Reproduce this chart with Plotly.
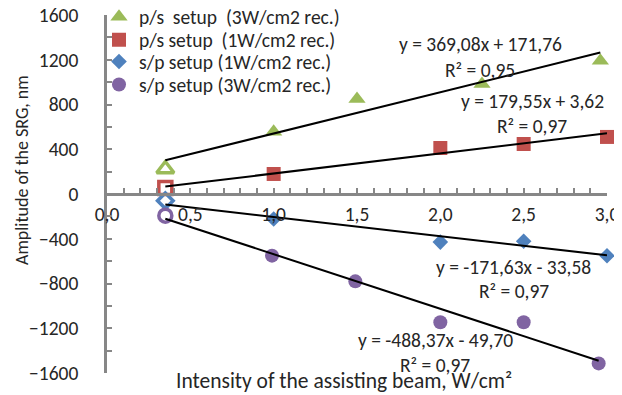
import plotly.graph_objects as go

# ---------------- data ----------------
series_names = [
    "p/s\u00a0 setup\u00a0 (3W/cm2 rec.)",
    "p/s setup\u00a0 (1W/cm2 rec.)",
    "s/p setup (1W/cm2 rec.)",
    "s/p setup (3W/cm2 rec.)",
]
ps3_x = [0.35, 1.0, 1.5, 2.25, 2.96]
ps3_y = [223, 556, 849, 983, 1192]
ps1_x = [0.35, 1.0, 2.0, 2.5, 3.0]
ps1_y = [54, 179, 411, 447, 510]
sp1_x = [0.35, 1.0, 2.0, 2.5, 3.0]
sp1_y = [-60, -224, -430, -422, -552]
sp3_x = [0.35, 0.99, 1.49, 2.0, 2.5, 2.95]
sp3_y = [-194, -551, -781, -1147, -1147, -1514]

slopes = [369.08, 179.55, -171.63, -488.37]
intercepts = [171.76, 3.62, -33.58, -49.70]
equations = ["y = 369,08x + 171,76", "y = 179,55x + 3,62",
             "y = -171,63x - 33,58", "y = -488,37x - 49,70"]
r2_labels = ["R² = 0,95", "R² = 0,97", "R² = 0,97", "R² = 0,97"]

x_ticks = [0.0, 0.5, 1.0, 1.5, 2.0, 2.5, 3.0]
x_tick_labels = ["0,0", "0,5", "1,0", "1,5", "2,0", "2,5", "3,0"]
y_ticks = [-1600, -1200, -800, -400, 0, 400, 800, 1200, 1600]

x_title = "Intensity of the assisting beam, W/cm²"
y_title = "Amplitude of the SRG, nm"

# ---------------- style ----------------
FONT = "Carlito, Lato, sans-serif"
FS = 19.5
TXT = "#262626"
AXC = "#878787"
colors = ["#9BBB59", "#C0504D", "#4F81BD", "#8064A2"]
symbols = ["triangle-up", "square", "diamond", "circle"]
sizes = [15, 14, 12, 14]
open_sizes = [15, 13, 12, 13]
legend_ids = ["legend", "legend2", "legend3", "legend4"]
legend_rows_y = [0.994, 0.930, 0.869, 0.805]

xs = [ps3_x, ps1_x, sp1_x, sp3_x]
ys = [ps3_y, ps1_y, sp1_y, sp3_y]

fig = go.Figure()

for i in range(4):
    fig.add_trace(go.Scatter(
        x=xs[i][1:], y=ys[i][1:], mode="markers", name=series_names[i],
        marker=dict(symbol=symbols[i], size=sizes[i], color=colors[i],
                    line=dict(width=0)),
        cliponaxis=False, showlegend=True, legend=legend_ids[i],
    ))
for i in range(4):
    fig.add_trace(go.Scatter(
        x=xs[i][:1], y=ys[i][:1], mode="markers",
        marker=dict(symbol=symbols[i] + "-open", size=open_sizes[i],
                    color=colors[i], line=dict(width=3.5, color=colors[i])),
        cliponaxis=False, showlegend=False, hoverinfo="skip",
    ))
for i in range(4):
    x0, x1 = min(xs[i]), max(xs[i])
    fig.add_trace(go.Scatter(
        x=[x0, x1], y=[slopes[i] * x0 + intercepts[i], slopes[i] * x1 + intercepts[i]],
        mode="lines", line=dict(color="black", width=2),
        showlegend=False, hoverinfo="skip", cliponaxis=False,
    ))

eq_pos = [(2.24, 1341), (2.55, 831), (2.44, -653), (1.97, -1305)]
r2_pos = [(2.24, 1109), (2.55, 608), (2.44, -867), (1.97, -1529)]
annotations = []
for i in range(4):
    annotations.append(dict(x=eq_pos[i][0], y=eq_pos[i][1], xref="x", yref="y",
                            text=equations[i], showarrow=False,
                            font=dict(family=FONT, size=FS, color=TXT)))
    annotations.append(dict(x=r2_pos[i][0], y=r2_pos[i][1], xref="x", yref="y",
                            text=r2_labels[i], showarrow=False,
                            font=dict(family=FONT, size=FS, color=TXT)))

annotations.append(dict(x=0.474, y=-0.022, xref="paper", yref="paper",
                        text=x_title, showarrow=False, yanchor="middle",
                        font=dict(family=FONT, size=21.5, color=TXT)))
annotations.append(dict(x=-0.17, y=0.567, xref="paper", yref="paper",
                        text=y_title, showarrow=False, textangle=-90,
                        xanchor="center", yanchor="middle",
                        font=dict(family=FONT, size=18, color=TXT)))

legend_common = dict(xanchor="left", yanchor="middle", bgcolor="rgba(0,0,0,0)",
                     font=dict(family=FONT, size=FS, color=TXT), itemwidth=30)
legends = {}
for i, lid in enumerate(legend_ids):
    legends[lid] = dict(x=-0.016, y=legend_rows_y[i], **legend_common)

# page body has an 8px margin, so the figure is shrunk by 8px and margins shifted
fig.update_layout(
    width=614, height=387,
    margin=dict(l=99, r=15, t=7, b=22, autoexpand=False),
    paper_bgcolor="white", plot_bgcolor="white",
    font=dict(family=FONT, size=FS, color=TXT),
    annotations=annotations,
    xaxis=dict(range=[0, 3.0], anchor="free", position=0.5,
               tickvals=x_ticks, ticktext=x_tick_labels,
               ticks="inside", ticklen=5, tickwidth=1.5, tickcolor=AXC,
               minor=dict(dtick=0.1, ticks="inside", ticklen=5, tickwidth=1.5, tickcolor=AXC),
               showline=True, linecolor=AXC, linewidth=2.5,
               showgrid=False, zeroline=False, ticklabelstandoff=2,
               ticklabeloverflow="allow",
               tickfont=dict(family=FONT, size=FS, color=TXT)),
    yaxis=dict(range=[-1600, 1600], tickvals=y_ticks,
               ticks="inside", ticklen=5, tickwidth=1.5, tickcolor=AXC,
               minor=dict(dtick=200, ticks="inside", ticklen=5, tickwidth=1.5, tickcolor=AXC),
               showline=True, linecolor=AXC, linewidth=2.5,
               showgrid=False, zeroline=False, ticklabelstandoff=22,
               ticklabeloverflow="allow",
               tickfont=dict(family=FONT, size=FS, color=TXT)),
    **legends,
)

fig.write_html("out.html")
